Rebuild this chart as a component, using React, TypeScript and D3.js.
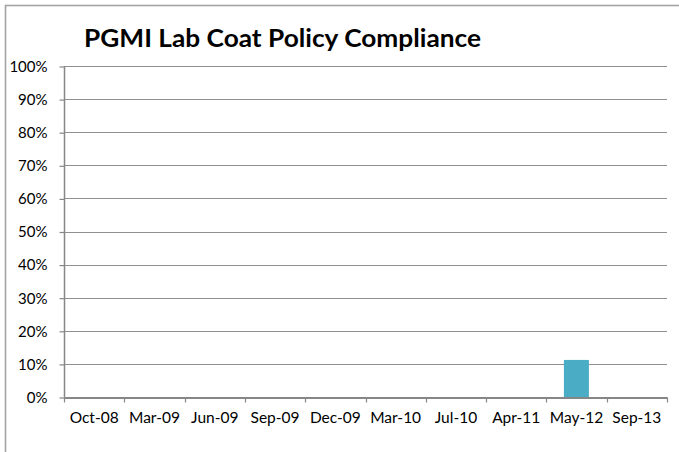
import { useEffect, useRef } from 'react';
import * as d3 from 'd3';

const categories = ['Oct-08', 'Mar-09', 'Jun-09', 'Sep-09', 'Dec-09', 'Mar-10', 'Jul-10', 'Apr-11', 'May-12', 'Sep-13'];
const compliance = [0, 0, 0, 0, 0, 0, 0, 0, 0.112, 0];
const yTicks = [0, 0.1, 0.2, 0.3, 0.4, 0.5, 0.6, 0.7, 0.8, 0.9, 1];

export default function App() {
  const svgRef = useRef<SVGSVGElement>(null);

  useEffect(() => {
    if (!svgRef.current) return;
    const width = 679;
    const height = 452;
    const left = 64;
    const right = 667;
    const top = 66;
    const bottom = 397;
    const font = 'Lato, "Open Sans", sans-serif';

    const svg = d3.select(svgRef.current);
    svg.selectAll('*').remove();
    svg.attr('width', width).attr('height', height);

    // chart frame
    svg.append('rect')
      .attr('x', 5.5).attr('y', 5.5)
      .attr('width', width + 10).attr('height', height + 10)
      .attr('fill', '#fff')
      .attr('stroke', '#a3a3a3')
      .attr('stroke-width', 1.6);

    const x = d3.scaleBand().domain(categories).range([left, right]).paddingInner(0).paddingOuter(0);
    const y = d3.scaleLinear().domain([0, 1]).range([bottom, top]);

    // title
    svg.append('text')
      .attr('x', 84).attr('y', 47)
      .attr('font-family', font)
      .attr('font-weight', 'bold')
      .attr('font-size', 25)
      .attr('textLength', 397)
      .attr('lengthAdjust', 'spacingAndGlyphs')
      .attr('fill', '#000')
      .text('PGMI Lab Coat Policy Compliance');

    // gridlines
    svg.append('g')
      .selectAll('line')
      .data(yTicks.filter((t) => t > 0))
      .join('line')
      .attr('x1', left).attr('x2', right)
      .attr('y1', (d) => Math.round(y(d)) + 0.5)
      .attr('y2', (d) => Math.round(y(d)) + 0.5)
      .attr('stroke', '#909090')
      .attr('stroke-width', 1.2);

    // y axis
    const yAxis = svg.append('g')
      .attr('transform', `translate(${left + 0.5},0.5)`)
      .call(d3.axisLeft(y).tickValues(yTicks).tickFormat(d3.format('.0%')).tickSize(5).tickPadding(12));
    yAxis.select('.domain').attr('stroke', '#868686').attr('stroke-width', 1.5).attr('d', `M0,${Math.round(top)}V${Math.round(bottom)}`);
    yAxis.selectAll('.tick line').attr('stroke', '#868686').attr('stroke-width', 1.2);
    yAxis.selectAll('text').attr('font-family', font).attr('font-size', 15).attr('fill', '#000');

    // bars
    svg.append('g')
      .selectAll('rect')
      .data(categories.map((c, i) => ({ c, v: compliance[i] })).filter((d) => d.v > 0))
      .join('rect')
      .attr('x', (d) => x(d.c)! + x.bandwidth() * 0.29)
      .attr('width', x.bandwidth() * 0.415)
      .attr('y', (d) => y(d.v))
      .attr('height', (d) => bottom - y(d.v))
      .attr('fill', '#4bacc6');

    // x axis
    const xAxis = svg.append('g')
      .attr('transform', `translate(0,${Math.round(bottom) + 0.5})`)
      .call(d3.axisBottom(x).tickSize(0).tickPadding(14));
    xAxis.select('.domain').attr('stroke', '#868686').attr('stroke-width', 1.8);
    xAxis.selectAll('text').attr('font-family', font).attr('font-size', 15.5).attr('fill', '#000');
    xAxis.append('g')
      .selectAll('line')
      .data(d3.range(categories.length + 1))
      .join('line')
      .attr('x1', (i) => Math.round(left + i * x.step()) + 0.5)
      .attr('x2', (i) => Math.round(left + i * x.step()) + 0.5)
      .attr('y1', 0).attr('y2', 5)
      .attr('stroke', '#868686')
      .attr('stroke-width', 1.2);
  }, []);

  return <svg ref={svgRef} style={{ position: 'absolute', left: 0, top: 0, background: '#fff' }} />;
}
